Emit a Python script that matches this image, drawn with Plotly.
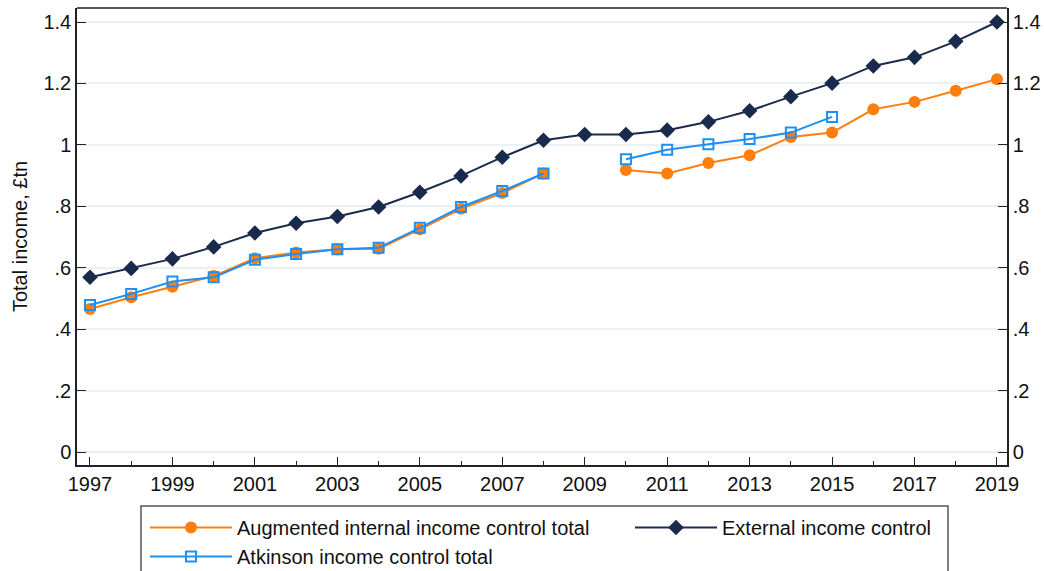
import plotly.graph_objects as go

years = list(range(1997, 2020))

augmented = [0.466, 0.504, 0.538, 0.573, 0.631, 0.650, 0.660, 0.662, 0.725, 0.792, 0.843, 0.907,
             None, 0.918, 0.907, 0.941, 0.966, 1.026, 1.040, 1.116, 1.140, 1.176, 1.214]
external = [0.569, 0.598, 0.629, 0.668, 0.713, 0.745, 0.767, 0.798, 0.846, 0.899, 0.960, 1.015,
            1.034, 1.034, 1.048, 1.075, 1.111, 1.157, 1.201, 1.257, 1.285, 1.337, 1.400]
atkinson = [0.479, 0.515, 0.555, 0.569, 0.626, 0.645, 0.660, 0.665, 0.730, 0.798, 0.850, 0.907,
            None, 0.953, 0.984, 1.002, 1.019, 1.040, 1.091, None, None, None, None]

ytick_vals = [0, 0.2, 0.4, 0.6, 0.8, 1.0, 1.2, 1.4]
ytick_text = ["0", ".2", ".4", ".6", ".8", "1", "1.2", "1.4"]
xtick_vals = list(range(1997, 2020, 2))

ORANGE = "#ff7f0e"
NAVY = "#1a2a4d"
BLUE = "#1e8ff5"
FONT = "Liberation Sans, Arial, sans-serif"
FS = 20
W, H = 1044, 571
ML, MR, MT, MB = 77, 37, 8, 106
PW, PH = W - ML - MR, H - MT - MB

fig = go.Figure()
fig.add_trace(go.Scatter(x=years, y=augmented, mode="lines+markers",
                         name="Augmented internal income control total", legend="legend",
                         line=dict(color=ORANGE, width=2),
                         marker=dict(symbol="circle", size=12, color=ORANGE),
                         connectgaps=False))
fig.add_trace(go.Scatter(x=years, y=external, mode="lines+markers",
                         name="External income control", legend="legend2",
                         line=dict(color=NAVY, width=2),
                         marker=dict(symbol="diamond", size=12, color=NAVY)))
fig.add_trace(go.Scatter(x=years, y=atkinson, mode="lines+markers",
                         name="Atkinson income control total", legend="legend",
                         line=dict(color=BLUE, width=2),
                         marker=dict(symbol="square-open", size=10, color=BLUE,
                                     line=dict(width=2, color=BLUE)),
                         connectgaps=False))
# invisible trace to carry the right-hand axis
fig.add_trace(go.Scatter(x=[years[0]], y=[external[0]], yaxis="y2", mode="markers",
                         marker=dict(opacity=0), showlegend=False, hoverinfo="skip"))

yrange = [-0.042, 1.4456]
common_y = dict(range=yrange, tickvals=ytick_vals, ticktext=ytick_text,
                ticks="inside", ticklen=9, tickwidth=1.3, tickcolor="#222",
                showline=True, linecolor="#222", linewidth=1.5, automargin=False,
                tickfont=dict(size=FS, color="#111", family=FONT), zeroline=False)

legend_common = dict(orientation="v", xref="paper", yref="container",
                     xanchor="left", yanchor="top", borderwidth=0,
                     bgcolor="rgba(0,0,0,0)", itemwidth=82,
                     font=dict(size=FS, family=FONT, color="#111"), traceorder="normal")

# legend frame (paper coordinates derived from pixel positions)
fx0 = (141 - ML) / PW
fx1 = (948 - ML) / PW
fy1 = (H - MB - 506) / PH
fy0 = (H - MB - 600) / PH

fig.update_layout(
    template="none",
    width=W, height=H,
    margin=dict(l=ML, r=MR, t=MT, b=MB),
    paper_bgcolor="white", plot_bgcolor="white",
    font=dict(family=FONT, size=FS, color="#111"),
    showlegend=True,
    xaxis=dict(range=[1996.685, 2019.243], tickvals=xtick_vals, automargin=False,
               ticks="inside", ticklen=8, tickwidth=1.3, tickcolor="#222",
               minor=dict(dtick=1, tick0=1997, ticks="inside", ticklen=4, tickwidth=1.3,
                          tickcolor="#222", showgrid=False),
               showline=True, linecolor="#222", linewidth=1.5, mirror=False,
               showgrid=False, zeroline=False,
               tickfont=dict(size=FS, color="#111", family=FONT)),
    yaxis=dict(**common_y, showgrid=True, gridcolor="#e9f1f3", gridwidth=1.5,
               title=dict(text="Total income, £tn", font=dict(size=FS, family=FONT), standoff=10)),
    yaxis2=dict(**common_y, overlaying="y", side="right", showgrid=False),
    legend=dict(**legend_common, x=(145 - ML) / PW, y=1 - 508 / H),
    legend2=dict(**legend_common, x=(630 - ML) / PW, y=1 - 508 / H),
    shapes=[
        dict(type="line", xref="paper", yref="paper", x0=0, x1=1, y0=1, y1=1,
             line=dict(color="#222", width=1.5)),
        dict(type="rect", xref="paper", yref="paper", x0=fx0, x1=fx1, y0=fy0, y1=fy1,
             line=dict(color="#555", width=1.5), fillcolor="rgba(0,0,0,0)", layer="below"),
    ],
)

fig.write_html("out.html", config={"displayModeBar": False},
               post_script="document.body.style.margin='0';document.body.style.overflow='hidden';")
